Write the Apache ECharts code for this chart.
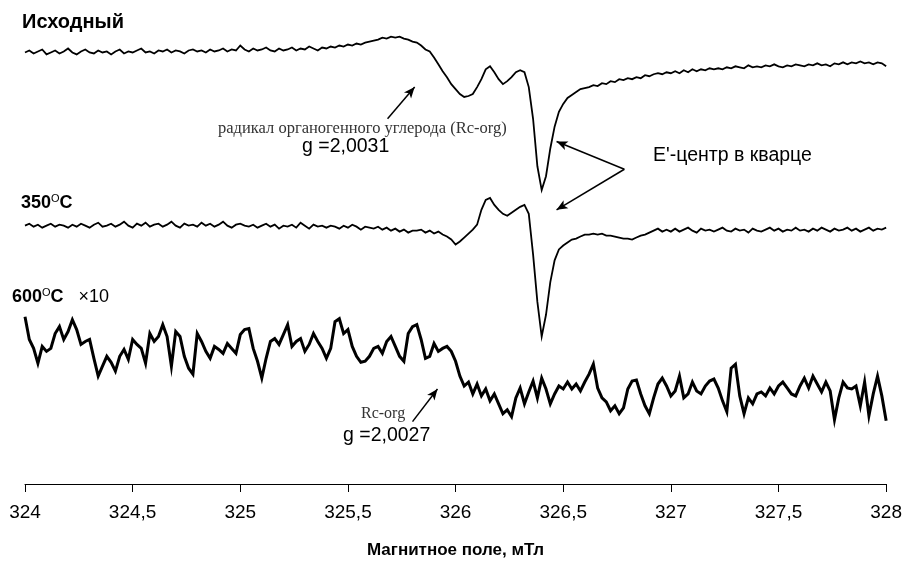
<!DOCTYPE html>
<html>
<head>
<meta charset="utf-8">
<script src="https://cdn.jsdelivr.net/npm/echarts@6/dist/echarts.min.js"></script>
<style>
  html, body { margin: 0; padding: 0; background: #fff; }
  #chart { width: 905px; height: 564px; }
</style>
</head>
<body>
<div id="chart"></div>
<script>
// magnetic field grid, mT
var fieldStart = 324, fieldStep = 0.02, fieldCount = 201;
var xTicks = [324, 324.5, 325, 325.5, 326, 326.5, 327, 327.5, 328];

// signal amplitude (a.u.), one value per field step
var initial = [
  0,2,-1,1,3,-2,0,2,-1,1,4,
  0,-2,1,3,0,-1,2,0,1,-2,
  1,3,-1,1,0,2,4,0,1,-1,
  2,1,3,0,2,1,-1,2,3,1,
  2,0,3,1,2,4,1,3,2,7,
  3,1,4,2,3,5,2,1,4,2,
  3,5,2,4,3,6,4,2,5,4,
  6,5,7,6,8,7,9,8,10,11,
  12,13,15,14,16,15,16,14,13,11,
  10,7,3,1,-5,-12,-19,-25,-32,-37,
  -42,-45,-44,-42,-35,-27,-17,-14,-20,-27,
  -32,-29,-25,-20,-18,-20,-35,-67,-115,-139,
  -125,-97,-75,-60,-52,-46,-43,-40,-37,-36,
  -35,-33,-34,-31,-32,-29,-30,-27,-28,-26,
  -27,-25,-26,-23,-24,-22,-21,-22,-20,-21,
  -19,-21,-18,-20,-17,-19,-17,-18,-16,-17,
  -16,-17,-15,-16,-14,-15,-16,-13,-15,-14,
  -15,-13,-14,-12,-14,-15,-13,-14,-12,-13,
  -14,-12,-13,-11,-13,-12,-14,-11,-12,-10,
  -12,-10,-11,-9,-11,-10,-12,-10,-11,-14
];
var heated350 = [
  0,2,-1,1,-2,0,2,-1,1,0,-2,
  1,-1,2,0,-2,1,3,-1,0,2,
  -1,1,4,0,-2,2,0,3,-1,1,
  2,-1,1,4,0,-2,2,0,1,-1,
  3,0,2,-1,1,4,0,-2,1,2,
  0,-1,1,-2,0,2,-1,1,-3,0,
  -1,1,-2,3,0,-3,1,-1,0,-2,
  0,-1,-3,0,-2,1,-1,-4,-1,-2,
  -3,-1,-4,-2,-5,-3,-6,-4,-7,-5,
  -5,-4,-7,-5,-8,-6,-9,-11,-14,-19,
  -16,-12,-8,-4,1,16,26,28,21,16,
  12,10,13,16,19,21,12,-29,-77,-112,
  -90,-57,-35,-24,-20,-17,-14,-13,-11,-9,
  -9,-8,-9,-8,-10,-10,-11,-12,-13,-13,
  -14,-12,-10,-9,-7,-5,-3,-6,-4,-6,
  -3,-6,-4,-2,-5,-7,-3,-5,-4,-6,
  -4,-2,-5,-6,-3,-5,-4,-7,-3,-5,
  -6,-4,-2,-5,-3,-6,-4,-5,-2,-5,
  -4,-6,-3,-5,-2,-4,-6,-3,-5,-4,
  -2,-5,-3,-6,-4,-2,-5,-3,-4,-2
];
// x10 gain
var heated600 = [
  30,7,-2,-17,0,-5,-2,13,20,7,15,
  27,17,2,5,7,-12,-30,-20,-10,-16,
  -25,-10,-3,-13,7,2,-2,-17,13,5,
  10,22,10,-20,15,10,-10,-22,-28,13,
  5,-5,-12,0,-3,-7,3,-2,-7,12,
  17,18,-2,-15,-32,-12,5,8,2,12,
  22,0,5,8,-5,2,13,5,-2,-12,
  -2,25,28,13,17,0,-10,-16,-15,-10,
  -2,0,-7,5,10,0,-10,-15,13,20,
  22,7,-12,-10,3,-5,-2,0,-5,-15,
  -30,-40,-36,-48,-38,-50,-43,-55,-48,-58,
  -68,-64,-71,-52,-42,-58,-46,-35,-52,-32,
  -43,-58,-48,-40,-43,-36,-43,-38,-45,-36,
  -28,-18,-42,-52,-56,-65,-60,-68,-62,-43,
  -35,-34,-48,-60,-68,-52,-38,-32,-40,-50,
  -45,-30,-52,-48,-36,-45,-48,-40,-35,-33,
  -42,-55,-66,-22,-18,-50,-68,-52,-58,-48,
  -46,-50,-42,-48,-40,-36,-42,-48,-50,-40,
  -32,-42,-30,-38,-46,-36,-45,-74,-52,-36,
  -42,-43,-40,-60,-36,-70,-48,-30,-50,-75
];
var traces = [initial, heated350, heated600];
var baselines = [436, 261, 139];
var widths = [1.8, 1.8, 3];

var field = [];
for (var i = 0; i < fieldCount; i++) field.push(+(fieldStart + i * fieldStep).toFixed(2));

// arrows, [field, level] -> [field, level]
var arrows = [
  [[325.684, 369], [325.810, 401]],
  [[326.784, 318], [326.469, 346]],
  [[326.784, 318], [326.469, 277]],
  [[325.800, 63], [325.916, 96]]
];

var series = traces.map(function (t, k) {
  return {
    type: 'line',
    showSymbol: false,
    silent: true,
    lineStyle: { color: '#000', width: widths[k], join: 'miter' },
    data: field.map(function (f, i) { return [f, baselines[k] + t[i]]; })
  };
});
series.push({
  type: 'line',
  data: [],
  markLine: {
    silent: true,
    symbol: ['none', 'arrow'],
    symbolSize: [7, 11],
    label: { show: false },
    lineStyle: { color: '#000', width: 1.5, type: 'solid' },
    data: arrows.map(function (a) { return [{ coord: a[0] }, { coord: a[1] }]; })
  }
});

var sans = 'Arial, "Liberation Sans", sans-serif';
var serif = '"Times New Roman", "Liberation Serif", serif';
var hdr = {
  b: { fontFamily: sans, fontWeight: 'bold', fontSize: 18, color: '#000', lineHeight: 21 },
  s: { fontFamily: sans, fontSize: 11, color: '#000', verticalAlign: 'top', lineHeight: 21 },
  n: { fontFamily: sans, fontSize: 18, color: '#000', lineHeight: 21 }
};

var myChart = echarts.init(document.getElementById('chart'));
myChart.setOption({
  animation: false,
  grid: { left: 25, right: 18, top: 0, bottom: 75 },
  xAxis: {
    type: 'value',
    min: xTicks[0],
    max: xTicks[xTicks.length - 1],
    interval: 0.5,
    name: 'Магнитное поле, мТл',
    nameLocation: 'middle',
    nameGap: 58,
    nameTextStyle: { fontFamily: sans, fontWeight: 'bold', fontSize: 17, color: '#000' },
    axisLine: { lineStyle: { color: '#000', width: 1 } },
    axisTick: { length: 8, lineStyle: { color: '#000' } },
    axisLabel: {
      margin: 19, fontFamily: sans, fontSize: 19, color: '#000',
      formatter: function (v) { return String(v).replace('.', ','); }
    },
    splitLine: { show: false }
  },
  yAxis: { type: 'value', min: 0, max: 489, show: false },
  series: series,
  graphic: [
    { type: 'text', left: 22, top: 12, style: { text: 'Исходный', font: 'bold 20px ' + sans, fill: '#000' } },
    { type: 'text', left: 21, top: 193, style: { text: '{b|350}{s|O}{b|C}', rich: hdr } },
    { type: 'text', left: 12, top: 287, style: { text: '{b|600}{s|O}{b|C}{n|   ×10}', rich: hdr } },
    { type: 'text', left: 218, top: 120, style: { text: 'радикал органогенного углерода (Rc-org)', font: '16.5px ' + serif, fill: '#333' } },
    { type: 'text', left: 302, top: 137, style: { text: 'g =2,0031', font: '19.5px ' + sans, fill: '#000' } },
    { type: 'text', left: 653, top: 146, style: { text: "E'-центр в кварце", font: '19.5px ' + sans, fill: '#000' } },
    { type: 'text', left: 361, top: 406, style: { text: 'Rc-org', font: '16px ' + serif, fill: '#333' } },
    { type: 'text', left: 343, top: 426, style: { text: 'g =2,0027', font: '19.5px ' + sans, fill: '#000' } }
  ]
});
</script>
</body>
</html>
